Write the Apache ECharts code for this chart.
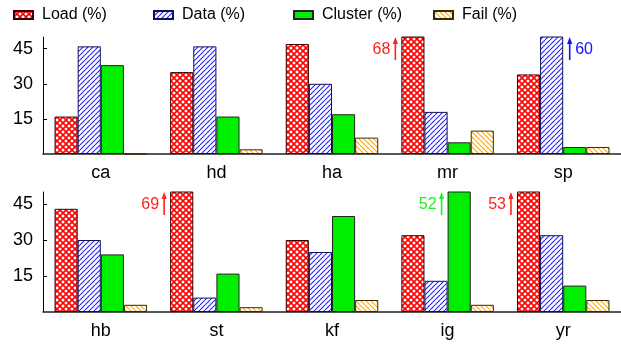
<!DOCTYPE html>
<html>
<head>
<meta charset="utf-8">
<script src="https://cdn.jsdelivr.net/npm/echarts@6/dist/echarts.min.js"></script>
<style>
html,body{margin:0;padding:0;background:#fff;}
#chart{width:621px;height:345px;}
</style>
</head>
<body>
<div id="chart"></div>
<script>
// ---- data ----
const seriesNames = ['Load (%)', 'Data (%)', 'Cluster (%)', 'Fail (%)'];
const categoriesTop = ['ca', 'hd', 'ha', 'mr', 'sp'];
const categoriesBottom = ['hb', 'st', 'kf', 'ig', 'yr'];
const loadTop = [16, 35, 47, 68, 34];
const dataTop = [46, 46, 30, 18, 60];
const clusterTop = [38, 16, 17, 5, 3];
const failTop = [0, 2, 7, 10, 3];
const loadBottom = [43, 69, 30, 32, 53];
const dataBottom = [30, 6, 25, 13, 32];
const clusterBottom = [24, 16, 40, 52, 11];
const failBottom = [3, 2, 5, 3, 5];
const yTickValues = [15, 30, 45];
const yMax = 50;

// ---- styles ----
const FONT = 'Liberation Sans, Arial, Helvetica, sans-serif';
const annotColors = ['#ff2020', '#1010ff', '#22ee22', '#ffa500'];

function makePattern(kind) {
  const s = kind === 'cross' ? 6 : 5;
  const c = document.createElement('canvas');
  c.width = s; c.height = s;
  const g = c.getContext('2d');
  g.fillStyle = '#fff';
  g.fillRect(0, 0, s, s);
  g.lineWidth = kind === 'cross' ? 1.6 : 1.1;
  g.strokeStyle = kind === 'cross' ? '#ff0000' : (kind === 'slash' ? '#2020ff' : '#ffa500');
  for (let k = -s; k <= s; k += s) {
    g.beginPath();
    if (kind === 'cross' || kind === 'back') { g.moveTo(k, 0); g.lineTo(k + s, s); }
    if (kind === 'cross' || kind === 'slash') { g.moveTo(k, s); g.lineTo(k + s, 0); }
    g.stroke();
  }
  return { image: c, repeat: 'repeat' };
}
const fills = [makePattern('cross'), makePattern('slash'), '#00ee00', makePattern('back')];
const borders = ['#3a0000', '#10105a', '#222', '#3a2a00'];

const panels = [
  { cats: categoriesTop, vals: [loadTop, dataTop, clusterTop, failTop] },
  { cats: categoriesBottom, vals: [loadBottom, dataBottom, clusterBottom, failBottom] }
];

const grids = [
  { left: 43, top: 37, width: 589, height: 117 },
  { left: 43, top: 192, width: 589, height: 120 }
];

const xAxes = panels.map((p, i) => ({
  type: 'category', gridIndex: i, data: p.cats,
  axisTick: { show: false },
  axisLine: { lineStyle: { color: '#222', width: 1.5 } },
  axisLabel: { fontSize: 18, color: '#000', fontFamily: FONT, margin: 10 }
}));
const yAxes = panels.map((p, i) => ({
  type: 'value', gridIndex: i, min: 0, max: yMax, interval: 15,
  splitLine: { show: false },
  axisLine: { show: true, lineStyle: { color: '#000', width: 1 } },
  axisTick: { show: true, inside: true, length: 4, lineStyle: { color: '#000' }, customValues: yTickValues },
  axisLabel: { fontSize: 18, color: '#000', fontFamily: FONT, margin: 10, customValues: yTickValues,
    formatter: v => yTickValues.includes(v) ? String(v) : '' }
}));

const series = [];
panels.forEach((p, pi) => {
  p.vals.forEach((vals, si) => {
    series.push({
      type: 'bar', name: seriesNames[si], xAxisIndex: pi, yAxisIndex: pi,
      data: vals, clip: true, barGap: '0%', barCategoryGap: '20%',
      itemStyle: { color: fills[si], borderColor: borders[si], borderWidth: 1 },
      emphasis: { disabled: true }
    });
  });
  // annotations for bars that exceed the axis maximum
  const over = [];
  p.vals.forEach((vals, si) => vals.forEach((v, ci) => {
    if (v > yMax) {
      const prev = si > 0 ? p.vals[si - 1][ci] : 0;
      over.push([ci, si, v, prev]);
    }
  }));
  series.push({
    type: 'custom', xAxisIndex: pi, yAxisIndex: pi, data: over, silent: true,
    encode: { x: 0, y: 2 },
    renderItem: function (params, api) {
      const ci = api.value(0), si = api.value(1), v = api.value(2), prev = api.value(3);
      const top = api.coord([ci, yMax]);
      const bandW = api.size([1, 0])[0];
      const barW = bandW * 0.2;
      const barLeft = top[0] - 2 * barW + si * barW;
      const left = si === 0 || prev < 30;
      const ax = left ? barLeft - 6 : barLeft + barW + 6.5;
      const y0 = top[1];
      const col = annotColors[si];
      return {
        type: 'group',
        children: [
          { type: 'line', shape: { x1: ax, y1: y0 + 23, x2: ax, y2: y0 + 5 }, style: { stroke: col, lineWidth: 1.6 } },
          { type: 'polygon', shape: { points: [[ax, y0], [ax - 2.6, y0 + 7], [ax + 2.6, y0 + 7]] }, style: { fill: col } },
          { type: 'text', style: { text: String(v), x: left ? ax - 5 : ax + 5.5, y: y0 + 12.5,
              align: left ? 'right' : 'left', verticalAlign: 'middle', fill: col, font: '16px ' + FONT } }
        ]
      };
    }
  });
});

const legendLefts = [13, 153, 293, 433];
const legends = seriesNames.map((n, i) => ({
  data: [n], left: legendLefts[i], top: 7, padding: 0, itemWidth: 19, itemHeight: 8,
  icon: 'rect', selectedMode: false,
  textStyle: { fontSize: 16, color: '#000', fontFamily: FONT, padding: [0, 0, 0, 4] }
}));

const chart = echarts.init(document.getElementById('chart'), null, { renderer: 'canvas' });
chart.setOption({
  animation: false,
  backgroundColor: '#fff',
  legend: legends,
  grid: grids,
  xAxis: xAxes,
  yAxis: yAxes,
  series: series
});
</script>
</body>
</html>
